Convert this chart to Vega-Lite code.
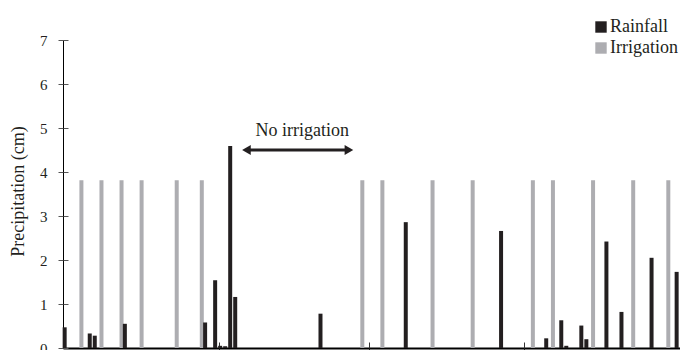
{
  "$schema": "https://vega.github.io/schema/vega-lite/v6.json",
  "width": 617,
  "height": 308,
  "autosize": {"type": "none"},
  "padding": {"left": 63, "top": 40, "right": 0, "bottom": 2},
  "background": "white",
  "config": {
    "font": "Liberation Serif",
    "view": {"stroke": null},
    "axis": {"grid": false, "labelFont": "Liberation Serif", "titleFont": "Liberation Serif"},
    "legend": {"labelFont": "Liberation Serif"},
    "text": {"font": "Liberation Serif"}
  },
  "datasets": {
    "precip": [
      {"day": 0, "series": "Rainfall", "value": 0.47},
      {"day": 5, "series": "Rainfall", "value": 0.33},
      {"day": 6, "series": "Rainfall", "value": 0.28},
      {"day": 12, "series": "Rainfall", "value": 0.55},
      {"day": 28, "series": "Rainfall", "value": 0.58},
      {"day": 30, "series": "Rainfall", "value": 1.54},
      {"day": 31, "series": "Rainfall", "value": 0.05},
      {"day": 32, "series": "Rainfall", "value": 0.04},
      {"day": 33, "series": "Rainfall", "value": 4.59},
      {"day": 34, "series": "Rainfall", "value": 1.16},
      {"day": 51, "series": "Rainfall", "value": 0.78},
      {"day": 68, "series": "Rainfall", "value": 2.86},
      {"day": 87, "series": "Rainfall", "value": 2.66},
      {"day": 96, "series": "Rainfall", "value": 0.22},
      {"day": 99, "series": "Rainfall", "value": 0.63},
      {"day": 100, "series": "Rainfall", "value": 0.05},
      {"day": 103, "series": "Rainfall", "value": 0.51},
      {"day": 104, "series": "Rainfall", "value": 0.2},
      {"day": 108, "series": "Rainfall", "value": 2.42},
      {"day": 111, "series": "Rainfall", "value": 0.82},
      {"day": 117, "series": "Rainfall", "value": 2.05},
      {"day": 122, "series": "Rainfall", "value": 1.73},
      {"day": 3, "series": "Irrigation", "value": 3.81},
      {"day": 7, "series": "Irrigation", "value": 3.81},
      {"day": 11, "series": "Irrigation", "value": 3.81},
      {"day": 15, "series": "Irrigation", "value": 3.81},
      {"day": 22, "series": "Irrigation", "value": 3.81},
      {"day": 27, "series": "Irrigation", "value": 3.81},
      {"day": 59, "series": "Irrigation", "value": 3.81},
      {"day": 63, "series": "Irrigation", "value": 3.81},
      {"day": 73, "series": "Irrigation", "value": 3.81},
      {"day": 81, "series": "Irrigation", "value": 3.81},
      {"day": 93, "series": "Irrigation", "value": 3.81},
      {"day": 97, "series": "Irrigation", "value": 3.81},
      {"day": 105, "series": "Irrigation", "value": 3.81},
      {"day": 113, "series": "Irrigation", "value": 3.81},
      {"day": 120, "series": "Irrigation", "value": 3.81}
    ]
  },
  "layer": [
    {
      "layer": [
        {
          "data": {"name": "precip"},
          "transform": [{"filter": "datum.series === 'Irrigation'"}],
          "mark": {"type": "bar", "width": 4, "xOffset": 0.85},
          "encoding": {
            "x": {
              "field": "day", "type": "quantitative",
              "scale": {"domain": [-0.5, 122.5], "nice": false, "zero": false, "padding": 0},
              "axis": {
                "orient": "bottom",
                "values": [30.5, 60.5, 91.5, 122.5],
                "labels": false, "title": null,
                "tickSize": 3, "tickColor": "#333333", "tickWidth": 1,
                "domainColor": "#000000", "domainWidth": 2
              }
            },
            "y": {
              "field": "value", "type": "quantitative",
              "scale": {"domain": [0, 7], "nice": false},
              "axis": {
                "orient": "left",
                "values": [0, 1, 2, 3, 4, 5, 6, 7],
                "title": "Precipitation (cm)",
                "titleFontSize": 18, "titleFontWeight": "normal",
                "titleColor": "#231f20", "titlePadding": 12, "titleY": 151,
                "labelFontSize": 15, "labelColor": "#231f20", "labelPadding": 11,
                "tickSize": 5, "tickColor": "#555555", "tickWidth": 1,
                "domainColor": "#000000", "domainWidth": 1
              }
            },
            "color": {
              "field": "series", "type": "nominal",
              "scale": {"domain": ["Rainfall", "Irrigation"], "range": ["#231f20", "#adadb1"]},
              "legend": {
                "orient": "none", "legendX": 529, "legendY": -22,
                "title": null, "symbolType": "square", "symbolSize": 130,
                "symbolStrokeWidth": 0, "labelFontSize": 18, "labelOffset": 0,
                "labelColor": "#231f20", "rowPadding": 3, "padding": 0
              }
            }
          }
        },
        {
          "data": {"values": [{}]},
          "mark": {"type": "rule", "strokeWidth": 3, "color": "#231f20"},
          "encoding": {
            "x": {"datum": 36.0, "type": "quantitative"},
            "x2": {"datum": 56.5},
            "y": {"datum": 4.5, "type": "quantitative"}
          }
        },
        {
          "data": {"values": [{}]},
          "mark": {"type": "point", "shape": "triangle-left", "size": 100, "filled": true, "color": "#231f20", "opacity": 1},
          "encoding": {
            "x": {"datum": 36.07, "type": "quantitative"},
            "y": {"datum": 4.5, "type": "quantitative"}
          }
        },
        {
          "data": {"values": [{}]},
          "mark": {"type": "point", "shape": "triangle-right", "size": 100, "filled": true, "color": "#231f20", "opacity": 1},
          "encoding": {
            "x": {"datum": 56.5, "type": "quantitative"},
            "y": {"datum": 4.5, "type": "quantitative"}
          }
        },
        {
          "data": {"values": [{}]},
          "mark": {"type": "text", "text": "No irrigation", "fontSize": 18, "color": "#231f20", "align": "center", "baseline": "alphabetic"},
          "encoding": {
            "x": {"datum": 47.2, "type": "quantitative"},
            "y": {"datum": 4.82, "type": "quantitative"}
          }
        }
      ]
    },
    {
      "data": {"name": "precip"},
      "transform": [{"filter": "datum.series === 'Rainfall'"}],
      "mark": {"type": "bar", "width": 4, "xOffset": -0.85},
      "encoding": {
        "x": {
          "field": "day", "type": "quantitative",
          "axis": {
            "orient": "bottom",
            "values": [30.5, 60.5, 91.5, 122.5],
            "labels": false, "title": null, "domain": false,
            "tickSize": -6, "tickColor": "#333333", "tickWidth": 1
          }
        },
        "y": {
          "field": "value", "type": "quantitative",
          "axis": {
            "orient": "left",
            "values": [0, 1, 2, 3, 4, 5, 6, 7],
            "labels": false, "title": null, "domain": false,
            "tickSize": -5, "tickColor": "#555555", "tickWidth": 1
          }
        },
        "color": {"field": "series", "type": "nominal"}
      }
    }
  ],
  "resolve": {"axis": {"x": "independent", "y": "independent"}}
}
